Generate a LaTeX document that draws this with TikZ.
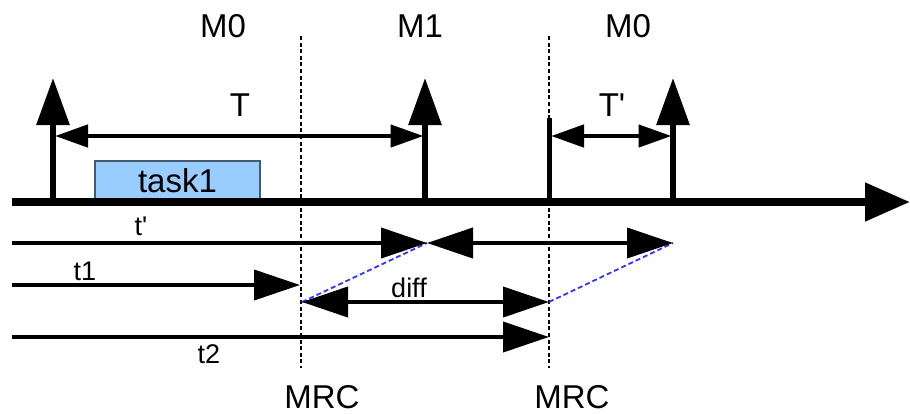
\documentclass[tikz,border=0pt]{standalone}
\usepackage{fontspec}
\setmainfont{Liberation Sans}
\usetikzlibrary{arrows.meta}
\definecolor{TaskFill}{RGB}{153,204,255}
\definecolor{TaskEdge}{RGB}{70,90,110}
\definecolor{LinkBlue}{RGB}{51,51,255}

\begin{document}
\begin{tikzpicture}[
        x=0.5pt, y=-0.5pt,
        big/.style={font=\fontsize{16.5}{19}\selectfont, inner sep=0pt},
        small/.style={font=\fontsize{13.5}{16}\selectfont, inner sep=0pt},
        timeaxis/.style={line width=4pt, -{Triangle[length=22.5pt,width=18.5pt]}},
        release/.style={line width=3pt, -{Triangle[length=23.5pt,width=16pt]}},
        period/.style={line width=2.3pt, {Triangle[length=16.5pt,width=11pt]}-{Triangle[length=16.5pt,width=11pt]}},
        elapsed/.style={line width=2pt, -{Triangle[length=23pt,width=15pt]}},
        interval/.style={line width=2pt, {Triangle[length=23pt,width=15pt]}-{Triangle[length=23pt,width=15pt]}},
        mrcline/.style={line width=0.9pt, dash pattern=on 2pt off 1.3pt},
        shiftline/.style={draw=LinkBlue, line width=0.9pt, dash pattern=on 2.5pt off 1.5pt},
        task/.style={draw=TaskEdge, fill=TaskFill, line width=0.6pt,
            minimum width=82.5pt, minimum height=20pt, inner sep=0pt,
            font=\fontsize{16.5}{19}\selectfont}
    ]
        \useasboundingbox (0,0) rectangle (910,413);

        % mode change request lines
        \coordinate (mrcAtop) at (301,36);
        \coordinate (mrcAbot) at (301,368);
        \coordinate (mrcBtop) at (549,36);
        \coordinate (mrcBbot) at (549,368);
        \draw[mrcline] (mrcAtop) -- (mrcAbot);
        \draw[mrcline] (mrcBtop) -- (mrcBbot);

        % time axis
        \coordinate (start) at (12,202);
        \coordinate (stop) at (910,202);
        \node[task] (task1) at (177.5,181) {task1};
        \draw[timeaxis] (start) -- (stop);

        % release marks
        \coordinate (r0) at (53,202);
        \coordinate (r0top) at (53,78);
        \coordinate (r1) at (425,202);
        \coordinate (r1top) at (425,78);
        \coordinate (r2) at (673,202);
        \coordinate (r2top) at (673,78);
        \coordinate (mc) at (549.5,200);
        \coordinate (mctop) at (549.5,118);
        \draw[release] (r0) -- (r0top);
        \draw[release] (r1) -- (r1top);
        \draw[release] (r2) -- (r2top);
        \draw[line width=2.5pt] (mc) -- (mctop);

        % periods
        \coordinate (pA) at (55,136);
        \coordinate (pB) at (423.5,136);
        \coordinate (pC) at (551,136);
        \coordinate (pD) at (671.5,136);
        \draw[period] (pA) -- (pB);
        \draw[period] (pC) -- (pD);

        \node[big] (modeA) at (223,26) {M0};
        \node[big] (modeB) at (420,26) {M1};
        \node[big] (modeC) at (628,26) {M0};
        \node[big] (per) at (240,105) {T};
        \node[big] (perb) at (612,105) {T\textquotesingle};

        % elapsed times below the axis
        \coordinate (tpA) at (12,243);
        \coordinate (tpB) at (427,243);
        \coordinate (tpC) at (673,243);
        \coordinate (t1A) at (12,285);
        \coordinate (t1B) at (300,285);
        \coordinate (dA) at (302,302);
        \coordinate (dB) at (549,302);
        \coordinate (t2A) at (12,337);
        \coordinate (t2B) at (549,337);
        \draw[shiftline] (dA) -- (tpB);
        \draw[shiftline] (dB) -- (tpC);
        \draw[elapsed] (tpA) -- (tpB);
        \draw[interval] (tpB) -- (tpC);
        \draw[elapsed] (t1A) -- (t1B);
        \draw[interval] (dA) -- (dB);
        \draw[elapsed] (t2A) -- (t2B);

        \node[small] (tp) at (141,226) {t\textquotesingle};
        \node[small] (tone) at (85,271) {t1};
        \node[small] (diff) at (409,288) {diff};
        \node[small] (ttwo) at (209,354) {t2};
        \node[big] (mrcA) at (322,397) {MRC};
        \node[big] (mrcB) at (572,397) {MRC};
    \end{tikzpicture}
\end{document}
